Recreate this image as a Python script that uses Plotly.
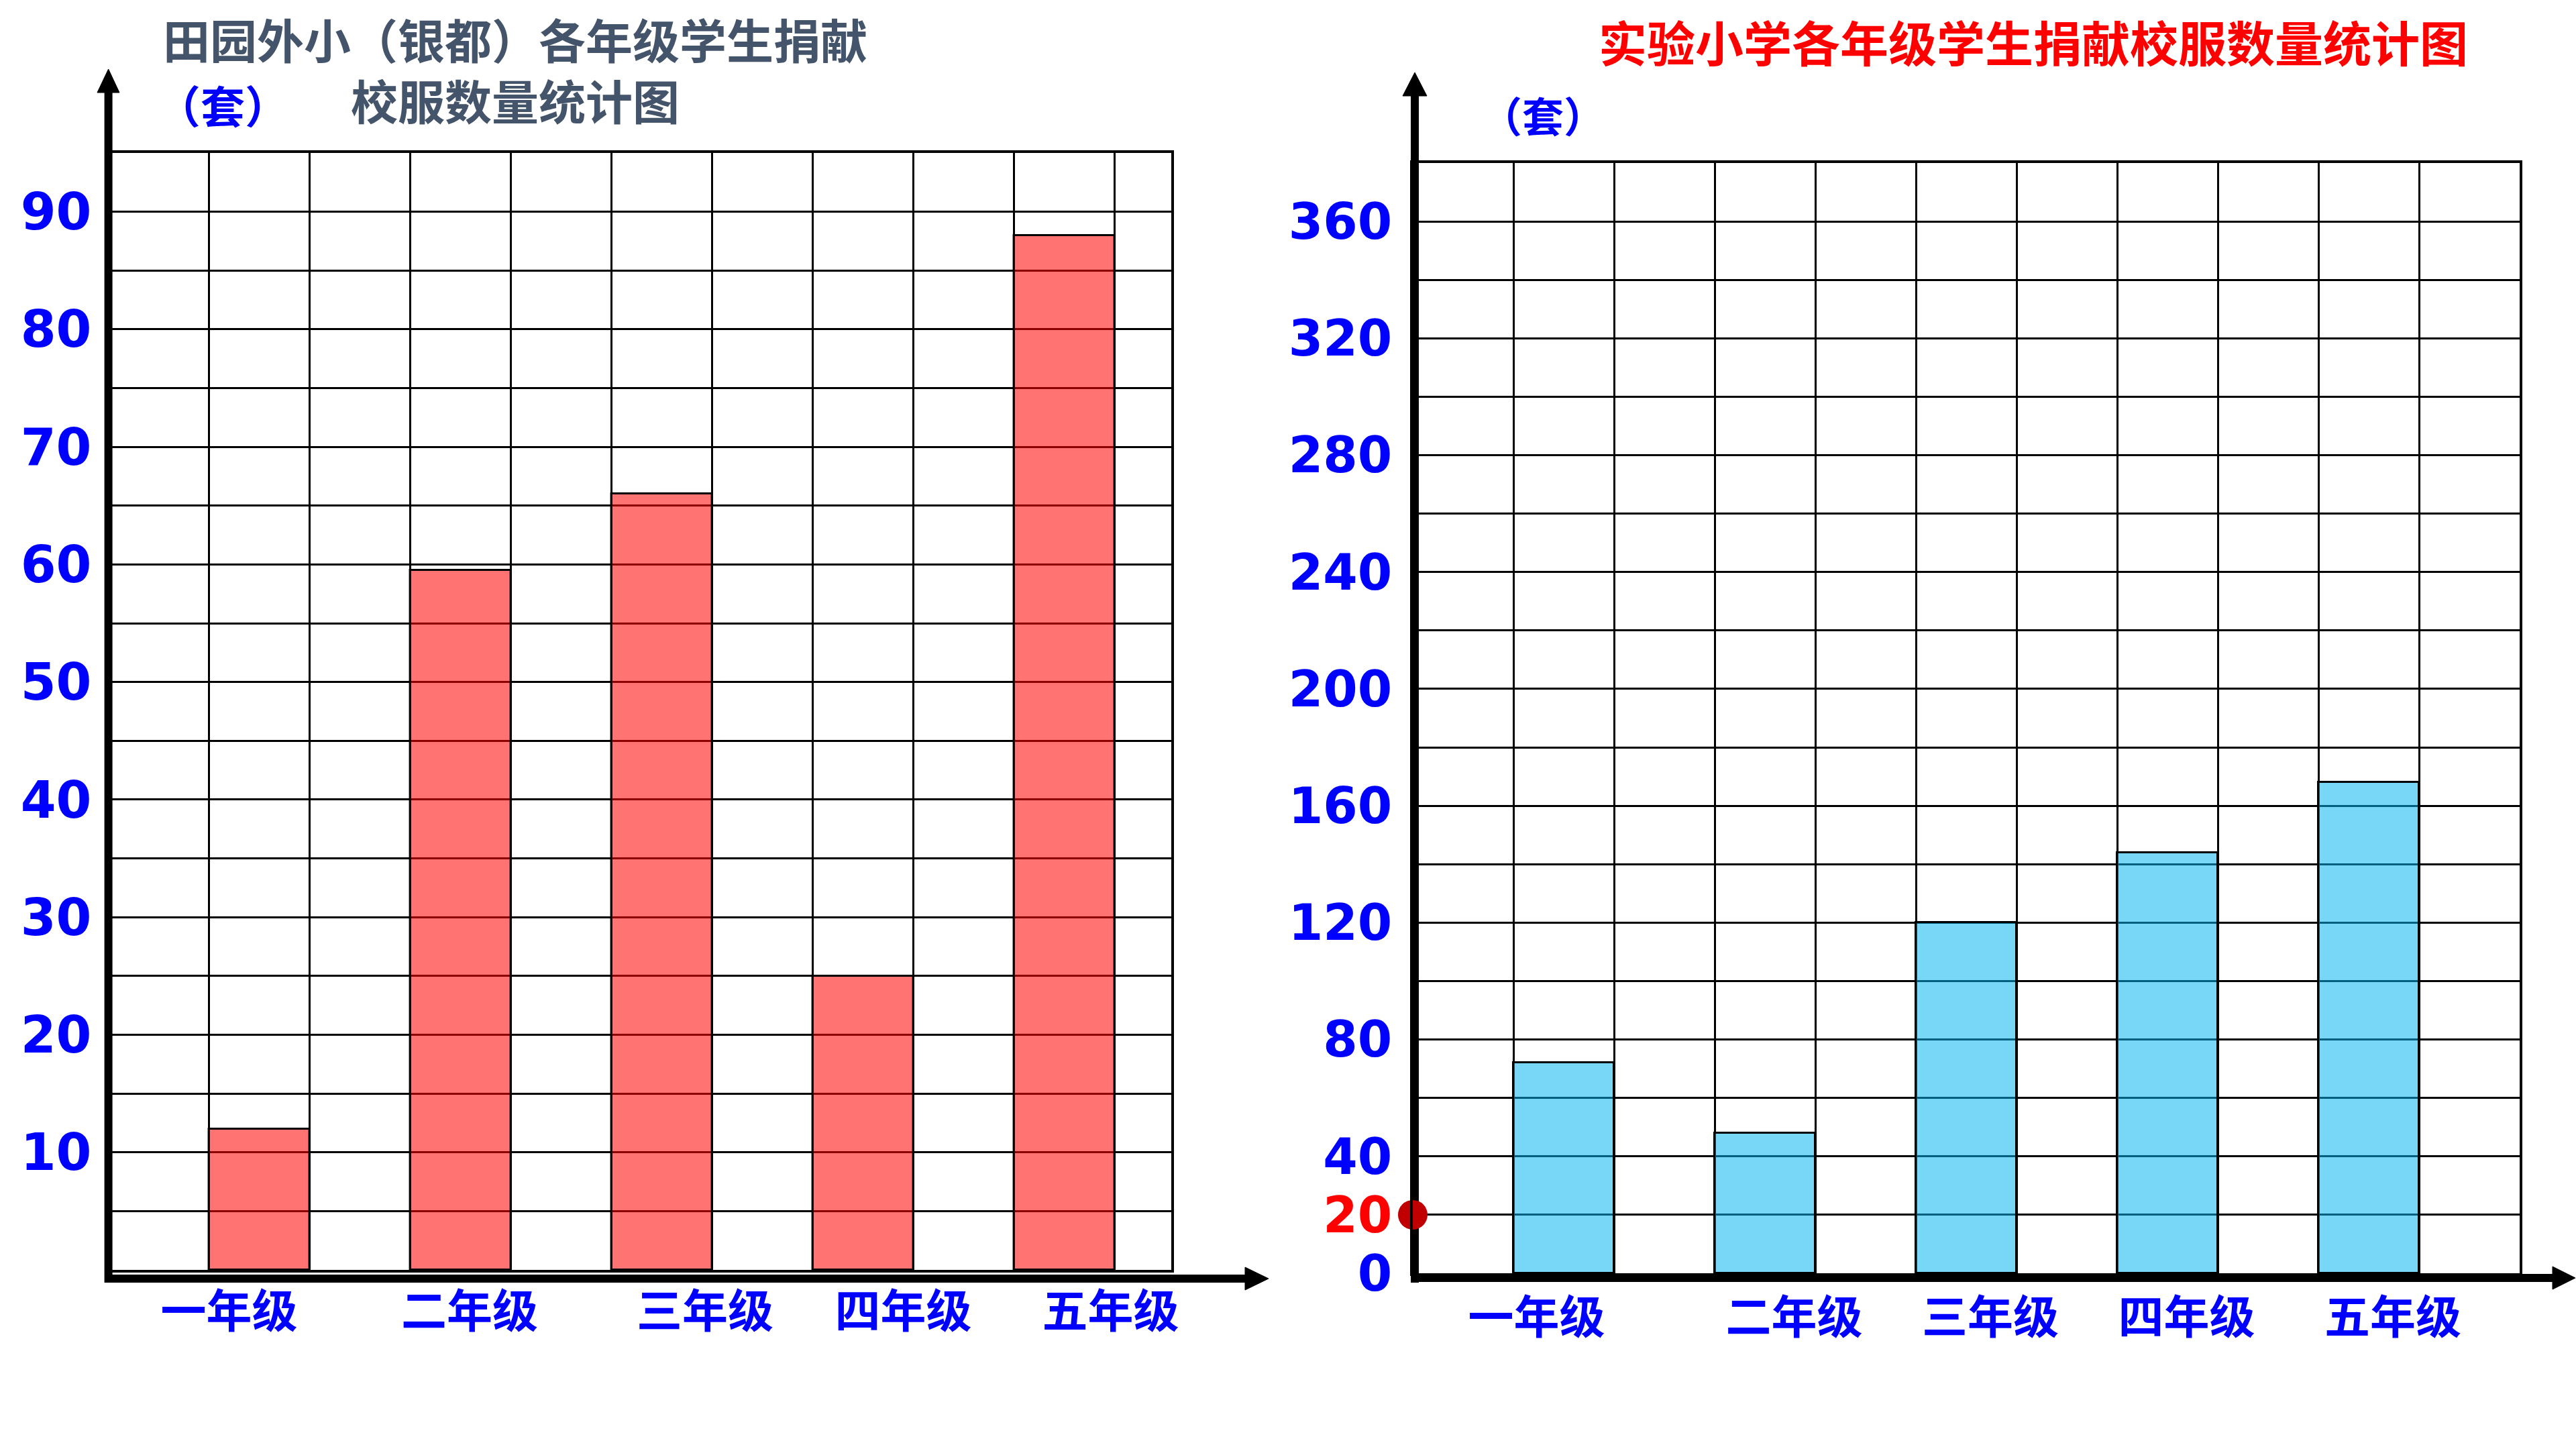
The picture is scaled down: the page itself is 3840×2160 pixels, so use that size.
import plotly.graph_objects as go

# ---------------- data ----------------
grades = ["一年级", "二年级", "三年级", "四年级", "五年级"]
tianyuan_values = [12, 59.5, 66, 25, 88]        # 田园外小（银都）
shiyan_values = [72, 48, 120, 144, 168]         # 实验小学

left_y_tickvals = [10, 20, 30, 40, 50, 60, 70, 80, 90]
left_y_ticktext = ["10", "20", "30", "40", "50", "60", "70", "80", "90"]
right_y_tickvals = [0, 20, 40, 80, 120, 160, 200, 240, 280, 320, 360]
right_y_ticktext = ["0", "<span style='color:#FF0000'>20</span>", "40", "80", "120",
                    "160", "200", "240", "280", "320", "360"]
highlight_value = [20]

left_title = "田园外小（银都）各年级学生捐献<br>校服数量统计图"
right_title = "实验小学各年级学生捐献校服数量统计图"
unit_label = "（套）"

# ---------------- layout helpers ----------------
W, H = 3840, 2160


def px(x):
    return x / W


def py(y):
    return 1 - y / H


bar_slots = [2 * i + 1.5 for i in range(len(grades))]
left_label_shift = [-0.30, 0.09, 0.43, 0.40, 0.46]
right_label_shift = [-0.27, 0.29, 0.24, 0.19, 0.24]
left_label_pos = [s + d for s, d in zip(bar_slots, left_label_shift)]
right_label_pos = [s + d for s, d in zip(bar_slots, right_label_shift)]

CJK = "Noto Sans CJK SC"
NUM = "DejaVu Sans"
BLUE = "#0000FF"

fig = go.Figure()

fig.add_trace(go.Bar(
    x=bar_slots, y=tianyuan_values, width=1.0,
    marker=dict(color="rgba(255,0,0,0.55)", line=dict(color="black", width=3)),
    xaxis="x", yaxis="y", showlegend=False,
))
fig.add_trace(go.Bar(
    x=bar_slots, y=shiyan_values, width=1.0,
    marker=dict(color="rgba(0,178,240,0.53)", line=dict(color="black", width=3)),
    xaxis="x2", yaxis="y2", showlegend=False,
))
fig.add_trace(go.Scatter(
    x=[0], y=highlight_value, mode="markers",
    marker=dict(size=44, color="#C00000"),
    xaxis="x2", yaxis="y2", showlegend=False, cliponaxis=False,
))

grid_common = dict(showgrid=True, gridcolor="black", gridwidth=3)

fig.update_layout(
    width=W, height=H, autosize=False,
    margin=dict(l=0, r=0, t=0, b=0, pad=0, autoexpand=False),
    paper_bgcolor="white", plot_bgcolor="rgba(0,0,0,0)",
    bargap=0,
    xaxis=dict(
        domain=[px(161.6), px(1746)], range=[0, (1746 - 161.6) / 150.0],
        tickvals=left_label_pos, ticktext=grades, showgrid=False,
        minor=dict(tick0=0, dtick=1, ticks="", **grid_common),
        showline=True, mirror=True, linecolor="black", linewidth=4,
        ticks="", ticklabelstandoff=0, automargin=False,
        tickfont=dict(family=CJK, size=68, color=BLUE, weight="bold"),
        zeroline=False, anchor="y", fixedrange=True,
    ),
    yaxis=dict(
        domain=[py(1893), py(228)], range=[0, 95],
        tickvals=left_y_tickvals, ticktext=left_y_ticktext,
        minor=dict(tick0=0, dtick=5, ticks="", **grid_common),
        showline=True, mirror=True, linecolor="black", linewidth=4,
        ticks="", ticklabelstandoff=6, automargin=False,
        tickfont=dict(family=NUM, size=76, color=BLUE, weight="bold"),
        zeroline=False, anchor="x", fixedrange=True, **grid_common,
    ),
    xaxis2=dict(
        domain=[px(2106), px(3756)], range=[0, 11],
        tickvals=right_label_pos, ticktext=grades, showgrid=False,
        minor=dict(tick0=0, dtick=1, ticks="", **grid_common),
        showline=True, mirror=True, linecolor="black", linewidth=4,
        ticks="", ticklabelstandoff=4, automargin=False,
        tickfont=dict(family=CJK, size=68, color=BLUE, weight="bold"),
        zeroline=False, anchor="y2", fixedrange=True,
    ),
    yaxis2=dict(
        domain=[py(1898), py(243)], range=[0, 380],
        tickvals=right_y_tickvals, ticktext=right_y_ticktext,
        minor=dict(tick0=0, dtick=20, ticks="", **grid_common),
        showline=True, mirror=True, linecolor="black", linewidth=4,
        ticks="", ticklabelstandoff=12, automargin=False,
        tickfont=dict(family=NUM, size=74, color=BLUE, weight="bold"),
        zeroline=False, anchor="x2", fixedrange=True, **grid_common,
    ),
)

# ---------------- axis arrows (decoration) ----------------
shapes = []


def line(x0, y0, x1, y1, w=12):
    shapes.append(dict(type="line", xref="paper", yref="paper", layer="below",
                       x0=px(x0), y0=py(y0), x1=px(x1), y1=py(y1),
                       line=dict(color="black", width=w)))


def tri(points):
    path = "M " + " L ".join(f"{px(a)},{py(b)}" for a, b in points) + " Z"
    shapes.append(dict(type="path", xref="paper", yref="paper", path=path, layer="below",
                       fillcolor="black", line=dict(color="black", width=1)))


# left chart
line(161.6, 1912, 161.6, 136)
tri([(161.6, 103), (145, 138), (178, 138)])
line(156, 1906, 1858, 1906)
tri([(1856, 1889), (1891, 1906), (1856, 1923)])
# right chart
line(2109, 1912, 2109, 141)
tri([(2109, 108), (2091, 143), (2127, 143)])
line(2103, 1905, 3807, 1905)
tri([(3805, 1888), (3839, 1905), (3805, 1922)])

fig.update_layout(shapes=shapes)

# ---------------- titles ----------------
ann = []
ann.append(dict(text=left_title, x=px(768), y=py(103), xref="paper", yref="paper",
                showarrow=False, xanchor="center", yanchor="middle", align="center",
                font=dict(family=CJK, size=70, color="#44546A", weight="bold")))
ann.append(dict(text=unit_label, x=px(332), y=py(155), xref="paper", yref="paper",
                showarrow=False, xanchor="center", yanchor="middle",
                font=dict(family=CJK, size=66, color=BLUE, weight="bold")))
ann.append(dict(text=right_title, x=px(3031), y=py(60), xref="paper", yref="paper",
                showarrow=False, xanchor="center", yanchor="middle",
                font=dict(family=CJK, size=72, color="#FF0000", weight="bold")))
ann.append(dict(text=unit_label, x=px(2300), y=py(171), xref="paper", yref="paper",
                showarrow=False, xanchor="center", yanchor="middle",
                font=dict(family=CJK, size=62, color=BLUE, weight="bold")))
fig.update_layout(annotations=ann)

fig.write_html("out.html")
